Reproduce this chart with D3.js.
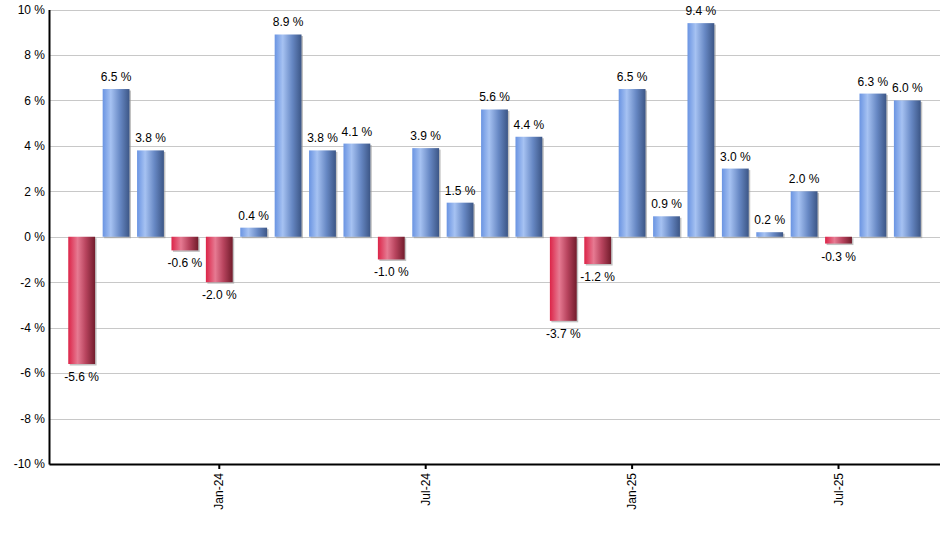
<!DOCTYPE html>
<html>
<head>
<meta charset="utf-8">
<script src="https://cdn.jsdelivr.net/npm/d3@7"></script>
<style>
  body { margin: 0; background: #fff; }
  svg text { font-family: "Liberation Sans", Arial, sans-serif; }
</style>
</head>
<body>
<div id="chart"></div>
<script>
// monthly returns, Sep-23 .. Sep-25
const MONTHS = [
  "Sep-23","Oct-23","Nov-23","Dec-23","Jan-24","Feb-24","Mar-24","Apr-24","May-24",
  "Jun-24","Jul-24","Aug-24","Sep-24","Oct-24","Nov-24","Dec-24","Jan-25","Feb-25",
  "Mar-25","Apr-25","May-25","Jun-25","Jul-25","Aug-25","Sep-25"
];
const VALUES = [
  -5.6, 6.5, 3.8, -0.6, -2.0, 0.4, 8.9, 3.8, 4.1,
  -1.0, 3.9, 1.5, 5.6, 4.4, -3.7, -1.2, 6.5, 0.9,
  9.4, 3.0, 0.2, 2.0, -0.3, 6.3, 6.0
];
const TICK_MONTHS = ["Jan-24", "Jul-24", "Jan-25", "Jul-25"];
const Y_TICKS = [-10, -8, -6, -4, -2, 0, 2, 4, 6, 8, 10];

const width = 940, height = 550;
const margin = { top: 9.5, right: 0, bottom: 86, left: 49 };

const svg = d3.select("#chart").append("svg")
  .attr("width", width).attr("height", height);

const defs = svg.append("defs");

function addGrad(id, stops) {
  const g = defs.append("linearGradient").attr("id", id)
    .attr("x1", "0%").attr("x2", "100%").attr("y1", "0%").attr("y2", "0%");
  stops.forEach(s => g.append("stop").attr("offset", s[0]).attr("stop-color", s[1]));
}
addGrad("gradPos", [["0%", "#6a94e2"], ["30%", "#a6c2f2"], ["65%", "#6788c4"], ["100%", "#3c5686"]]);
addGrad("gradNeg", [["0%", "#dc2448"], ["35%", "#e67a92"], ["65%", "#b8445e"], ["100%", "#721c2c"]]);

const x = d3.scaleBand()
  .domain(MONTHS)
  .range([margin.left, width - margin.right])
  .paddingInner(0.22)
  .paddingOuter(0.56);

const y = d3.scaleLinear()
  .domain([-10, 10])
  .range([height - margin.bottom, margin.top]);

// grid
svg.append("g")
  .selectAll("line")
  .data(Y_TICKS)
  .join("line")
  .attr("x1", margin.left).attr("x2", width)
  .attr("y1", d => Math.round(y(d)) + 0.5).attr("y2", d => Math.round(y(d)) + 0.5)
  .attr("stroke", "#c8c8c8").attr("stroke-width", 1);

// bars (with small shadow)
const bars = svg.append("g");
bars.selectAll("rect.shadow")
  .data(VALUES)
  .join("rect")
  .attr("class", "shadow")
  .attr("x", (d, i) => x(MONTHS[i]) + 1.5)
  .attr("y", d => Math.min(y(d), y(0)) + 1.5)
  .attr("width", x.bandwidth())
  .attr("height", d => Math.abs(y(d) - y(0)))
  .attr("fill", "#9a9a9a")
  .attr("opacity", 0.6);

bars.selectAll("rect.bar")
  .data(VALUES)
  .join("rect")
  .attr("class", "bar")
  .attr("x", (d, i) => x(MONTHS[i]))
  .attr("y", d => Math.min(y(d), y(0)))
  .attr("width", x.bandwidth())
  .attr("height", d => Math.abs(y(d) - y(0)))
  .attr("fill", d => d >= 0 ? "url(#gradPos)" : "url(#gradNeg)");

// value labels
svg.append("g")
  .selectAll("text")
  .data(VALUES)
  .join("text")
  .attr("x", (d, i) => x(MONTHS[i]) + x.bandwidth() / 2)
  .attr("y", d => d >= 0 ? y(d) - 8 : y(d) + 17)
  .attr("text-anchor", "middle")
  .style("font-size", "12px")
  .style("fill", "#000")
  .text(d => d.toFixed(1) + " %");

// y axis
const yAxis = svg.append("g")
  .attr("transform", `translate(${margin.left},0)`)
  .call(d3.axisLeft(y).tickValues(Y_TICKS).tickSize(0).tickPadding(4).tickFormat(d => d + " %"));
yAxis.select(".domain").attr("stroke", "#000").attr("stroke-width", 2);
yAxis.selectAll("text").style("font-size", "12px").style("fill", "#000")
  .style("font-family", "'Liberation Sans', Arial, sans-serif");

// x axis
const xAxis = svg.append("g")
  .attr("transform", `translate(0,${y(-10)})`)
  .call(d3.axisBottom(x).tickValues(TICK_MONTHS).tickSize(5).tickSizeOuter(0).tickPadding(4));
xAxis.select(".domain").attr("stroke", "#000").attr("stroke-width", 2);
xAxis.selectAll(".tick line").attr("stroke", "#000").attr("stroke-width", 2);
xAxis.selectAll("text")
  .style("font-size", "12px").style("fill", "#000")
  .style("font-family", "'Liberation Sans', Arial, sans-serif")
  .attr("transform", "rotate(-90)")
  .attr("text-anchor", "end")
  .attr("x", -9).attr("y", 0).attr("dy", "0.35em");
</script>
</body>
</html>
